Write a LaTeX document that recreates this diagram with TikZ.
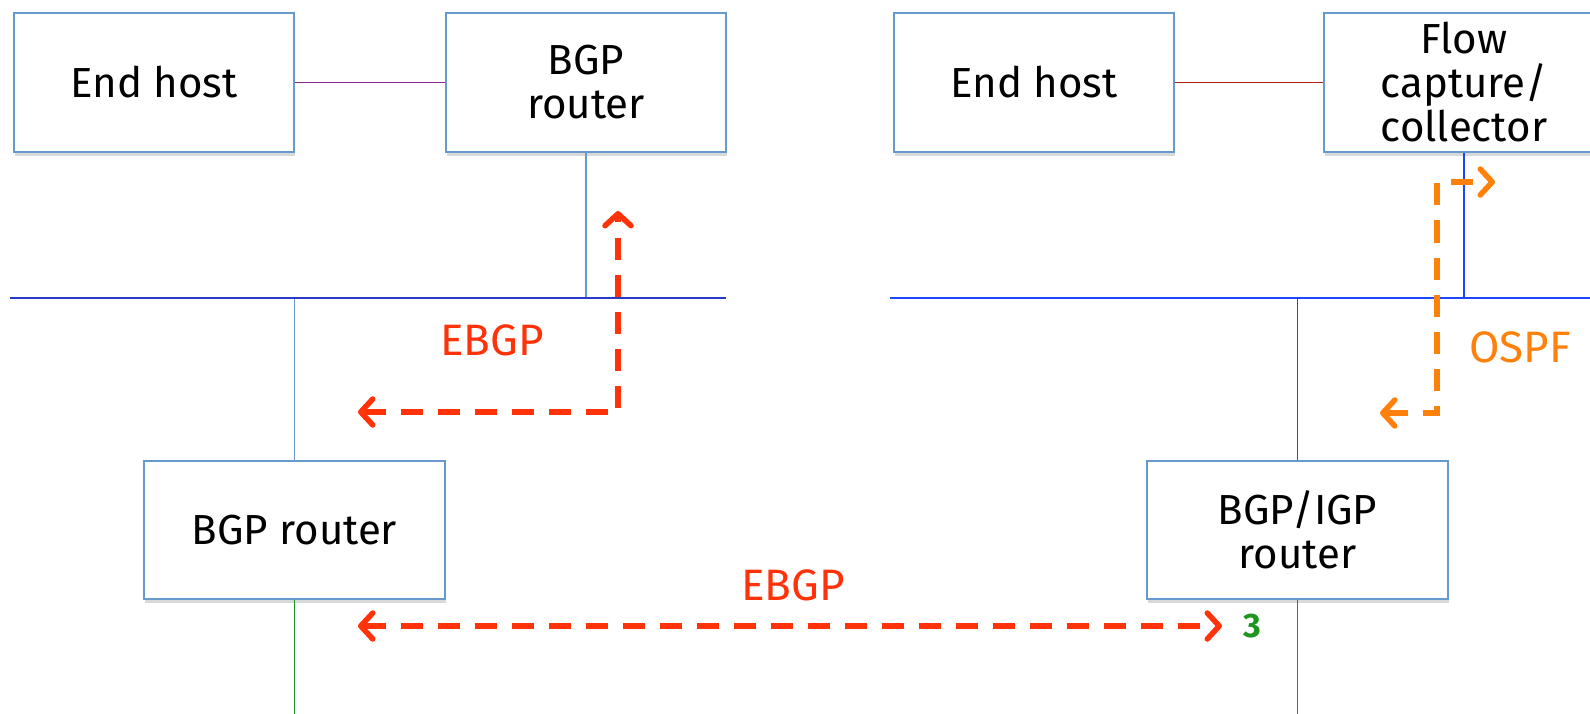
\documentclass[tikz,border=0pt]{standalone}
\usepackage{fontspec}
\setmainfont{Fira Sans}
\usetikzlibrary{arrows.meta,shadows}
\definecolor{boxblue}{RGB}{102,153,204}
\definecolor{busdark}{RGB}{40,60,200}
\definecolor{busbright}{RGB}{30,70,255}
\definecolor{purpl}{RGB}{140,40,150}
\definecolor{darkred}{RGB}{180,30,20}
\definecolor{arrred}{RGB}{255,50,10}
\definecolor{arrorange}{RGB}{255,128,10}
\definecolor{lgreen}{RGB}{30,150,30}
\tikzset{
  box/.style={draw=boxblue, line width=1.6pt, fill=white, minimum width=280pt,
    minimum height=139pt, align=center, inner sep=0pt,
    font=\fontsize{42}{44}\selectfont,
    drop shadow={shadow xshift=1pt, shadow yshift=-4pt, opacity=0.15, fill=black}},
  widebox/.style={box, minimum width=301pt, minimum height=138pt},
  link/.style={line width=1.6pt},
  dasharrow/.style={line width=5.5pt, dash pattern=on 22pt off 15pt},
  lbl/.style={font=\fontsize{44}{44}\selectfont, inner sep=0pt},
}
\begin{document}
\begin{tikzpicture}[x=1pt,y=-1pt,
  btip/.tip={Straight Barb[length=12pt,width=26pt,line cap=round,line join=round]}]
\useasboundingbox (0,0) rectangle (1590,714);
% boxes
\node[box] (eh1) at (154,82.5) {End host};
\node[box] (bgp1) at (586,82.5) {BGP\\router};
\node[widebox] (bgp2) at (294.5,530) {BGP router};
\node[box] (eh2) at (1034,82.5) {End host};
\node[box] (flow) at (1464,82.5) {Flow\\capture/\\collector};
\node[widebox] (bgp3) at (1297.5,530) {BGP/IGP\\router};
% bus coordinates
\coordinate (b1w) at (10,298);
\coordinate (b1e) at (726,298);
\coordinate (b2w) at (890,298);
\coordinate (b2e) at (1590,298);
\coordinate (bot) at (0,714);
% links
\draw[link, purpl] (eh1.east) -- (bgp1.west);
\draw[link, darkred] (eh2.east) -- (flow.west);
\draw[link, boxblue] (bgp1.south) -- (bgp1.south |- b1w);
\draw[link, boxblue] (bgp2.north) -- (bgp2.north |- b1w);
\draw[link, busbright] (flow.south) -- (flow.south |- b2w);
\draw[link, busbright] (bgp3.north) -- (bgp3.north |- b2w);
\draw[link, busdark] (b1w) -- (b1e);
\draw[link, busbright] (b2w) -- (b2e);
\draw[link, lgreen] (bgp2.south) -- (bgp2.south |- bot);
\draw[link, lgreen] (bgp3.south) -- (bgp3.south |- bot);
% EBGP upper
\coordinate (e1top) at (618,211);
\coordinate (e1cor) at (618,412);
\coordinate (e1left) at (358,412);
\draw[dasharrow, arrred, btip-btip, line join=miter] (e1left) -- (e1cor) -- (e1top);
\node[lbl, text=arrred] (ebgp1) at (492,340) {EBGP};
% EBGP lower
\coordinate (e2l) at (358,626);
\coordinate (e2r) at (1222,626);
\draw[dasharrow, arrred, btip-btip] (e2l) -- (e2r);
\node[lbl, text=arrred] (ebgp2) at (793,585) {EBGP};
\node[font=\fontsize{34}{34}\selectfont\bfseries, text=lgreen, inner sep=0pt] (three) at (1252,626) {3};
% OSPF
\coordinate (o1) at (1380,413);
\coordinate (o1c) at (1437,413);
\coordinate (o2c) at (1437,182);
\coordinate (o2) at (1495,182);
\draw[dasharrow, arrorange, btip-btip, line join=miter] (o1) -- (o1c) -- (o2c) -- (o2);
\node[lbl, text=arrorange] (ospf) at (1520,347) {OSPF};
\end{tikzpicture}
\end{document}
